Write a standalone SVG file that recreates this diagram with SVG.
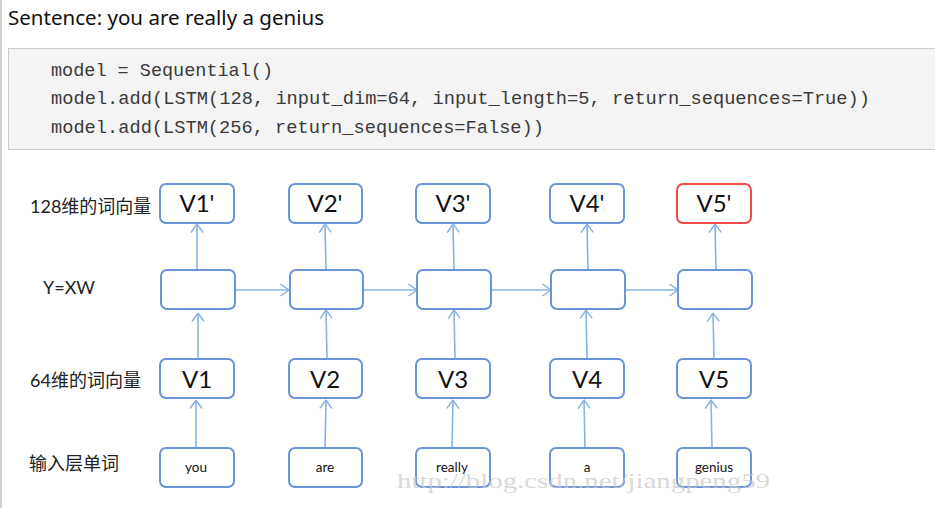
<svg xmlns="http://www.w3.org/2000/svg" width="935" height="508" viewBox="0 0 935 508">
<style>
.box{fill:#fff;stroke:#6b93d8;stroke-width:2}
.red{stroke:#f24a4a}
.lbl{font-family:Lato,"Open Sans","Noto Sans CJK SC",sans-serif;font-size:24px;fill:#111;text-anchor:middle}
.word{font-family:Lato,"Open Sans",sans-serif;font-size:13.5px;fill:#111;text-anchor:middle}
.side{font-family:Lato,"Noto Sans CJK SC",sans-serif;font-size:18px;fill:#222}
.code{font-family:"Liberation Mono",monospace;font-size:18.6px;fill:#3a3a3a}
.conn{stroke:#88b4e2;stroke-width:1.6;fill:none;marker-end:url(#ah)}
</style>
<defs>
<marker id="ah" viewBox="0 0 10 14" refX="9.5" refY="7" markerWidth="10" markerHeight="14" markerUnits="userSpaceOnUse" orient="auto">
<path d="M1,1 L9.5,7 L1,13" fill="none" stroke="#88b4e2" stroke-width="1.5"/>
</marker>
</defs>
<rect x="0" y="0" width="935" height="508" fill="#fff"/>
<line x1="1" y1="0" x2="1" y2="508" stroke="#cfcfcf" stroke-width="2"/>
<text x="8" y="25" font-family="'Noto Sans','Noto Sans CJK SC',sans-serif" font-size="19" fill="#111" textLength="316" lengthAdjust="spacingAndGlyphs">Sentence: you are really a genius</text>
<rect x="8.5" y="48.5" width="930" height="101" fill="#f4f4f4" stroke="#cccccc" stroke-width="1"/>
<text class="code" x="51" y="76" textLength="222" lengthAdjust="spacingAndGlyphs">model = Sequential()</text>
<text class="code" x="51" y="104" textLength="819" lengthAdjust="spacingAndGlyphs">model.add(LSTM(128, input_dim=64, input_length=5, return_sequences=True))</text>
<text class="code" x="51" y="133" textLength="493" lengthAdjust="spacingAndGlyphs">model.add(LSTM(256, return_sequences=False))</text>

<text class="side" x="30" y="213">128维的词向量</text>
<text class="side" x="43" y="294" font-size="14">Y=XW</text>
<text class="side" x="30" y="387">64维的词向量</text>
<text class="side" x="29" y="470" font-size="18.6">输入层单词</text>

<g id="connectors">
<line class="conn" x1="197" y1="270" x2="197" y2="224"/>
<line class="conn" x1="326" y1="270" x2="325" y2="224"/>
<line class="conn" x1="454" y1="270" x2="453" y2="224"/>
<line class="conn" x1="588" y1="270" x2="587" y2="224"/>
<line class="conn" x1="716" y1="270" x2="715" y2="224"/>

<line class="conn" x1="235" y1="290" x2="289" y2="290"/>
<line class="conn" x1="363" y1="290" x2="417" y2="290"/>
<line class="conn" x1="491" y1="290" x2="551" y2="290"/>
<line class="conn" x1="625" y1="290" x2="678" y2="290"/>

<line class="conn" x1="198" y1="359" x2="198" y2="313"/>
<line class="conn" x1="327" y1="359" x2="326" y2="310"/>
<line class="conn" x1="455" y1="359" x2="454" y2="310"/>
<line class="conn" x1="587" y1="359" x2="586" y2="310"/>
<line class="conn" x1="714" y1="359" x2="713" y2="313"/>

<line class="conn" x1="196" y1="448" x2="196" y2="400"/>
<line class="conn" x1="325" y1="448" x2="326" y2="400"/>
<line class="conn" x1="452" y1="448" x2="453" y2="400"/>
<line class="conn" x1="585" y1="448" x2="584" y2="400"/>
<line class="conn" x1="712" y1="448" x2="711" y2="400"/>
</g>

<g id="v1p"><rect class="box" x="160" y="184" width="74" height="39" rx="6"/><text class="lbl" x="197" y="212">V1'</text></g>
<g id="v2p"><rect class="box" x="289" y="184" width="73" height="39" rx="6"/><text class="lbl" x="325" y="212">V2'</text></g>
<g id="v3p"><rect class="box" x="416" y="184" width="74" height="39" rx="6"/><text class="lbl" x="453" y="212">V3'</text></g>
<g id="v4p"><rect class="box" x="550" y="184" width="74" height="39" rx="6"/><text class="lbl" x="587" y="212">V4'</text></g>
<g id="v5p"><rect class="box red" x="677" y="184" width="74" height="39" rx="6"/><text class="lbl" x="714" y="212">V5'</text></g>

<g id="h1"><rect class="box" x="161" y="270" width="74" height="39" rx="6"/></g>
<g id="h2"><rect class="box" x="290" y="270" width="73" height="39" rx="6"/></g>
<g id="h3"><rect class="box" x="417" y="270" width="74" height="39" rx="6"/></g>
<g id="h4"><rect class="box" x="551" y="270" width="74" height="39" rx="6"/></g>
<g id="h5"><rect class="box" x="678" y="270" width="74" height="39" rx="6"/></g>

<g id="v1"><rect class="box" x="160" y="359" width="74" height="39" rx="6"/><text class="lbl" x="197" y="388">V1</text></g>
<g id="v2"><rect class="box" x="289" y="359" width="73" height="39" rx="6"/><text class="lbl" x="325" y="388">V2</text></g>
<g id="v3"><rect class="box" x="416" y="359" width="74" height="39" rx="6"/><text class="lbl" x="453" y="388">V3</text></g>
<g id="v4"><rect class="box" x="550" y="359" width="74" height="39" rx="6"/><text class="lbl" x="587" y="388">V4</text></g>
<g id="v5"><rect class="box" x="677" y="359" width="74" height="39" rx="6"/><text class="lbl" x="714" y="388">V5</text></g>

<g id="w1"><rect class="box" x="160" y="448" width="74" height="39" rx="6"/><text class="word" x="196" y="472">you</text></g>
<g id="w2"><rect class="box" x="289" y="448" width="73" height="39" rx="6"/><text class="word" x="325" y="472">are</text></g>
<g id="w3"><rect class="box" x="416" y="448" width="74" height="39" rx="6"/><text class="word" x="452" y="472">really</text></g>
<g id="w4"><rect class="box" x="550" y="448" width="74" height="39" rx="6"/><text class="word" x="587" y="472">a</text></g>
<g id="w5"><rect class="box" x="677" y="448" width="74" height="39" rx="6"/><text class="word" x="714" y="472">genius</text></g>

<text x="397" y="488" font-family="'Liberation Serif',serif" font-size="22" fill="#c8c8c8" fill-opacity="0.7" textLength="373" lengthAdjust="spacingAndGlyphs">http://blog.csdn.net/jiangpeng59</text>
</svg>
